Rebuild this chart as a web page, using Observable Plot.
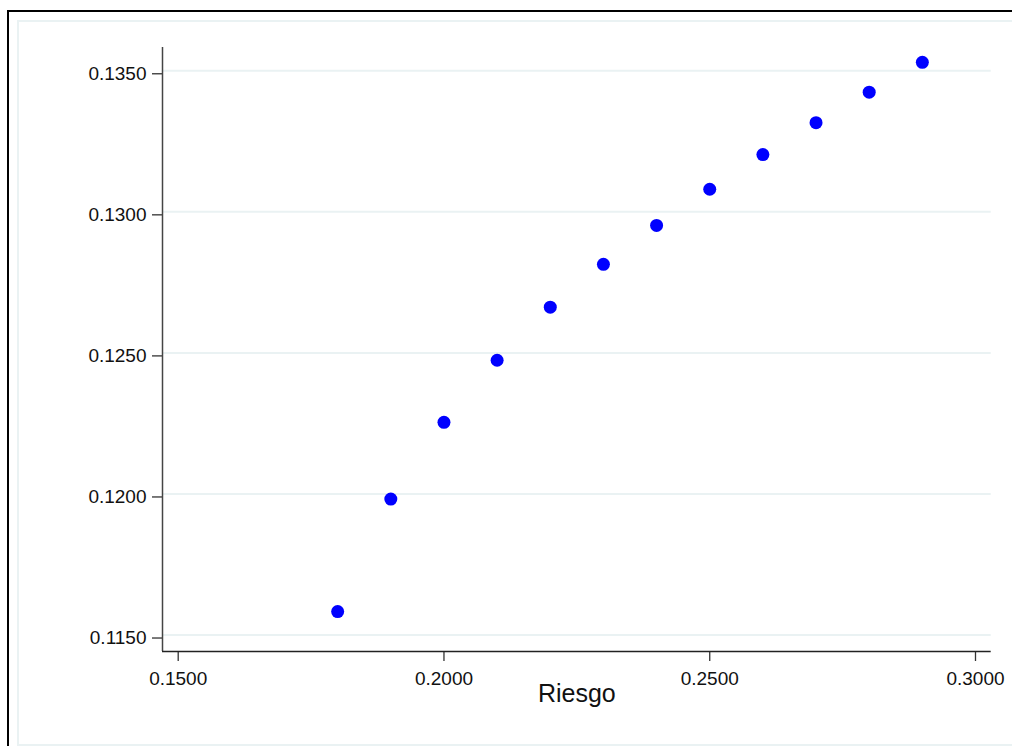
<!DOCTYPE html>
<html>
<head>
<meta charset="utf-8">
<script src="https://cdn.jsdelivr.net/npm/d3@7"></script>
<script src="https://cdn.jsdelivr.net/npm/@observablehq/plot@0.6"></script>
<style>
  html, body { margin: 0; padding: 0; background: #fff; }
  #wrap { position: relative; width: 1012px; height: 746px; overflow: hidden; font-family: "Liberation Sans", Arial, sans-serif; }
  #chart { position: absolute; left: 0; top: 0; }
  .outer { position: absolute; left: 7px; top: 10px; width: 1100px; height: 900px; border-left: 2px solid #000; border-top: 2px solid #000; z-index: 2; pointer-events: none; }
  .inner { position: absolute; left: 17px; top: 20px; width: 1100px; height: 722px; border-left: 2px solid #eaf2f3; border-top: 2px solid #eaf2f3; border-bottom: 2px solid #eaf2f3; z-index: 2; pointer-events: none; }
</style>
</head>
<body>
<div id="wrap">
  <div id="chart"></div>
  <div class="outer"></div>
  <div class="inner"></div>
</div>
<script>
const riesgo = [0.18, 0.19, 0.20, 0.21, 0.22, 0.23, 0.24, 0.25, 0.26, 0.27, 0.28, 0.29];
const rendimiento = [0.11583, 0.11982, 0.12254, 0.12474, 0.12662, 0.12814, 0.12952, 0.13080, 0.13203, 0.13316, 0.13424, 0.13530];
const xTicks = [0.15, 0.20, 0.25, 0.30];
const yTicks = [0.115, 0.120, 0.125, 0.130, 0.135];
const xLabel = "Riesgo";

const data = riesgo.map((r, i) => ({x: r, y: rendimiento[i]}));
const xDomain = [0.147046, 0.302954];
const yDomain = [0.114416, 0.135825];
const fmt = d3.format(".4f");

const chart = Plot.plot({
  width: 1012,
  height: 746,
  marginLeft: 162,
  marginRight: 21.3,
  marginTop: 47,
  marginBottom: 95,
  style: {background: "transparent", fontFamily: "'Liberation Sans', Arial, sans-serif", color: "#111"},
  x: {domain: xDomain},
  y: {domain: yDomain},
  marks: [
    Plot.gridY(yTicks, {stroke: "#eaf2f3", strokeOpacity: 1, strokeWidth: 2}),
    Plot.axisY(yTicks, {tickFormat: fmt, tickSize: 10, tickPadding: 6, fontSize: 19, dy: 3, label: null, stroke: "#333", strokeWidth: 1.3}),
    Plot.axisX(xTicks, {tickFormat: fmt, tickSize: 10, tickPadding: 10, fontSize: 19, label: null, stroke: "#333", strokeWidth: 1.3}),
    Plot.ruleX([xDomain[0]], {stroke: "#444", strokeWidth: 1.5}),
    Plot.ruleY([yDomain[0]], {stroke: "#222", strokeWidth: 1.5}),
    Plot.dot(data, {x: "x", y: "y", r: 6.5, fill: "#0000ff", stroke: null}),
    Plot.text([xLabel], {frameAnchor: "bottom", dy: 50, fontSize: 25, fill: "#111"})
  ]
});
document.getElementById("chart").appendChild(chart);
</script>
</body>
</html>
